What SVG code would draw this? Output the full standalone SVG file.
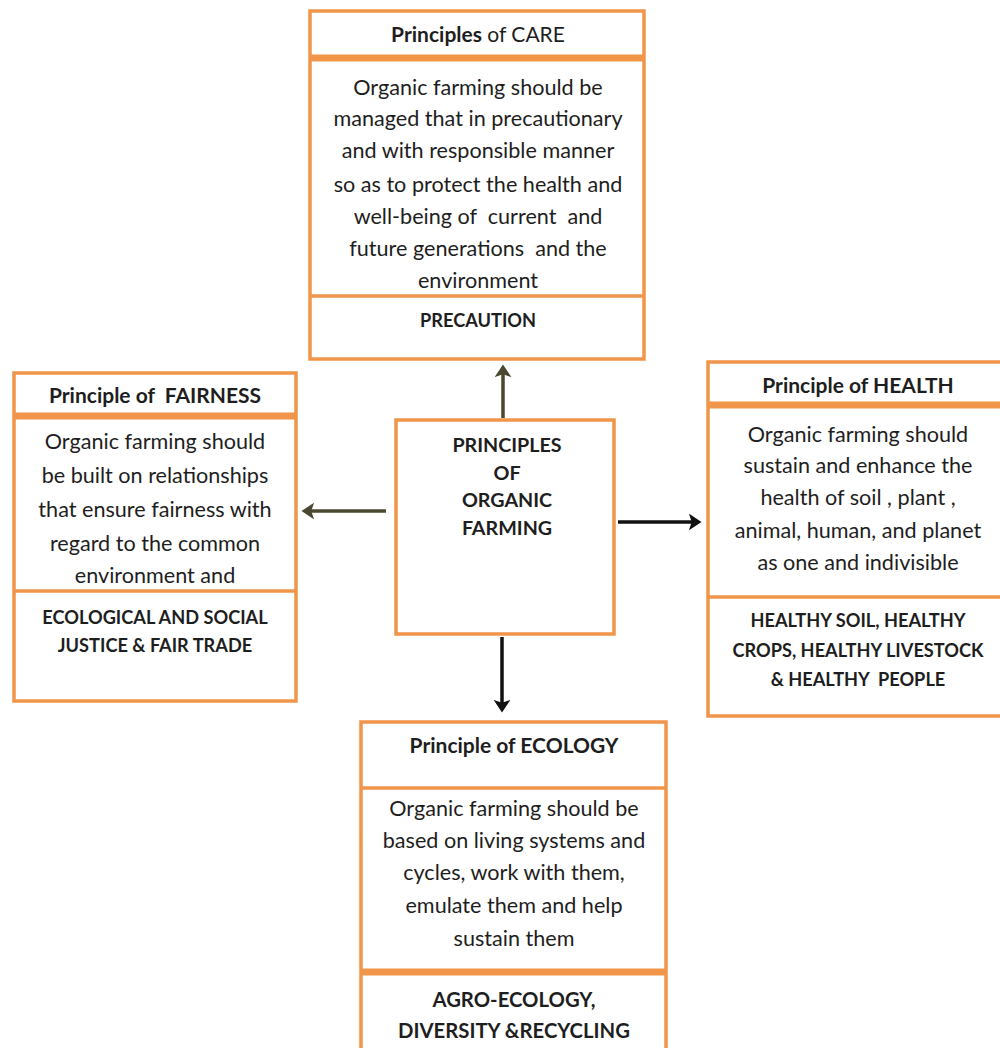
<svg xmlns="http://www.w3.org/2000/svg" width="1000" height="1048" viewBox="0 0 1000 1048">
<style>
.box{fill:#fff;stroke:#F0954A;stroke-width:3.5}
.div{stroke:#F0954A;stroke-width:3.5}
.thick{stroke:#F0954A;stroke-width:7}
text{font-family:Lato,"Open Sans","Liberation Sans",sans-serif;fill:#1e1e1e;text-anchor:middle;white-space:pre}
.b{font-size:21.6px}
.t{font-size:21px;font-weight:bold}
.k{font-size:18.2px;font-weight:bold}
.c{font-size:19.7px;font-weight:bold}
</style>
<defs>
<marker id="ab" markerWidth="5" markerHeight="5" refX="2.6" refY="2.4" orient="auto" markerUnits="strokeWidth"><path d="M0,0 L3.6,2.4 L0,4.8 L0.8,2.4 Z" fill="#111"/></marker>
<marker id="ao" markerWidth="5" markerHeight="5" refX="2.6" refY="2.4" orient="auto" markerUnits="strokeWidth"><path d="M0,0 L3.6,2.4 L0,4.8 L0.8,2.4 Z" fill="#4a4830"/></marker>
</defs>
<g id="connectors">
<line x1="503" y1="418" x2="503" y2="368" stroke="#4a4830" stroke-width="3.5" marker-end="url(#ao)"/>
<line x1="386" y1="511" x2="305" y2="511" stroke="#4a4830" stroke-width="3.5" marker-end="url(#ao)"/>
<line x1="618" y1="522" x2="698" y2="522" stroke="#111" stroke-width="3.5" marker-end="url(#ab)"/>
<line x1="502" y1="637" x2="502" y2="709" stroke="#111" stroke-width="3.5" marker-end="url(#ab)"/>
</g>
<g id="care">
<rect class="box" x="310" y="11" width="334" height="348"/>
<line class="thick" x1="310" y1="58" x2="644" y2="58"/>
<line class="div" x1="310" y1="296" x2="644" y2="296"/>
<text x="478" y="42" style="font-size:21px"><tspan font-weight="bold">Principles</tspan> of CARE</text>
<text class="b" x="478" y="95">Organic farming should be</text>
<text class="b" x="478" y="126">managed that in precautionary</text>
<text class="b" x="478" y="158">and with responsible manner</text>
<text class="b" x="478" y="192">so as to protect the health and</text>
<text class="b" x="478" y="224">well-being of  current  and</text>
<text class="b" x="478" y="256">future generations  and the</text>
<text class="b" x="478" y="288">environment</text>
<text class="k" x="478" y="327">PRECAUTION</text>
</g>
<g id="fairness">
<rect class="box" x="14" y="373" width="282" height="328"/>
<line class="thick" x1="14" y1="416" x2="296" y2="416"/>
<line class="div" x1="14" y1="591" x2="296" y2="591"/>
<text class="t" x="155" y="403">Principle of  FAIRNESS</text>
<text class="b" x="155" y="449">Organic farming should</text>
<text class="b" x="155" y="483">be built on relationships</text>
<text class="b" x="155" y="517">that ensure fairness with</text>
<text class="b" x="155" y="551">regard to the common</text>
<text class="b" x="155" y="583">environment and</text>
<text class="k" x="155" y="624">ECOLOGICAL AND SOCIAL</text>
<text class="k" x="155" y="652">JUSTICE &amp; FAIR TRADE</text>
</g>
<g id="center">
<rect class="box" x="396" y="420" width="218" height="214"/>
<text class="c" x="507" y="452">PRINCIPLES</text>
<text class="c" x="507" y="480">OF</text>
<text class="c" x="507" y="507">ORGANIC</text>
<text class="c" x="507" y="535">FARMING</text>
</g>
<g id="health">
<rect class="box" x="708" y="362" width="300" height="354"/>
<line class="thick" x1="708" y1="405" x2="1000" y2="405"/>
<line class="div" x1="708" y1="597" x2="1000" y2="597"/>
<text class="t" x="858" y="393">Principle of HEALTH</text>
<text class="b" x="858" y="442">Organic farming should</text>
<text class="b" x="858" y="473">sustain and enhance the</text>
<text class="b" x="858" y="505">health of soil , plant ,</text>
<text class="b" x="858" y="538">animal, human, and planet</text>
<text class="b" x="858" y="570">as one and indivisible</text>
<text class="k" x="858" y="627">HEALTHY SOIL, HEALTHY</text>
<text class="k" x="858" y="657">CROPS, HEALTHY LIVESTOCK</text>
<text class="k" x="858" y="686">&amp; HEALTHY  PEOPLE</text>
</g>
<g id="ecology">
<rect class="box" x="361" y="722" width="305" height="340"/>
<line class="div" x1="361" y1="788" x2="666" y2="788"/>
<line class="thick" x1="361" y1="972" x2="666" y2="972"/>
<text class="t" x="514" y="753">Principle of ECOLOGY</text>
<text class="b" x="514" y="816">Organic farming should be</text>
<text class="b" x="514" y="848">based on living systems and</text>
<text class="b" x="514" y="880">cycles, work with them,</text>
<text class="b" x="514" y="913">emulate them and help</text>
<text class="b" x="514" y="946">sustain them</text>
<text class="k" x="514" y="1007" style="font-size:20.3px">AGRO-ECOLOGY,</text>
<text class="k" x="514" y="1038" style="font-size:20.3px">DIVERSITY &amp;RECYCLING</text>
</g>
</svg>
